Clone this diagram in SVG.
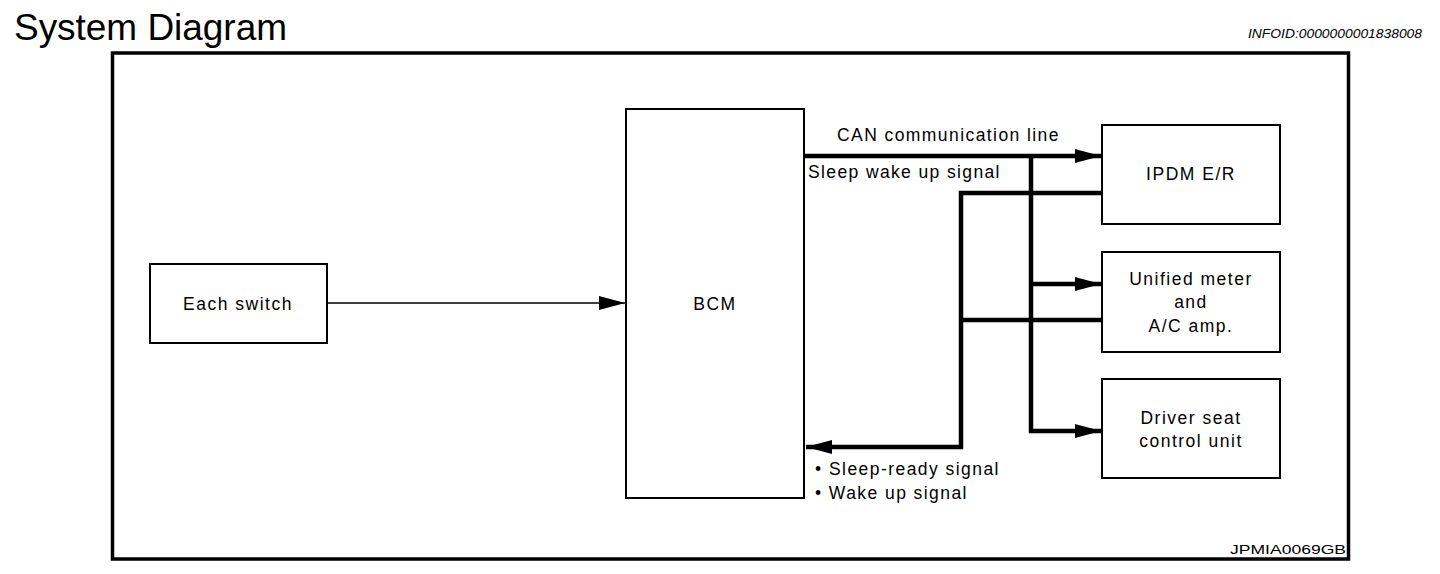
<svg xmlns="http://www.w3.org/2000/svg" width="1440" height="574" viewBox="0 0 1440 574">
<style>
text{font-family:"Liberation Sans",Arial,sans-serif;fill:#000}
.box{fill:#fff;stroke:#000;stroke-width:2}
.lbl{font-size:17.5px;letter-spacing:1.5px}
.c{text-anchor:middle}
.thick{fill:none;stroke:#000;stroke-width:4.5}
.thin{fill:none;stroke:#000;stroke-width:1.5}
</style>
<defs>
<marker id="ah" markerWidth="26" markerHeight="14" refX="26" refY="7" orient="auto" markerUnits="userSpaceOnUse">
<path d="M0,0 L26,7 L0,14 Z" fill="#000"/>
</marker>
</defs>
<rect width="1440" height="574" fill="#fff"/>
<text x="14" y="40" font-size="37" textLength="273">System Diagram</text>
<text x="1248" y="38" font-size="13" font-style="italic" textLength="174" lengthAdjust="spacingAndGlyphs">INFOID:0000000001838008</text>
<rect x="112.5" y="53" width="1236" height="506" fill="none" stroke="#000" stroke-width="3.5"/>
<text x="1230" y="554" font-size="13" textLength="116" lengthAdjust="spacingAndGlyphs">JPMIA0069GB</text>

<g id="connectors">
<path class="thin" d="M327,303 H625" marker-end="url(#ah)"/>
<path class="thick" d="M804,156 H1101" marker-end="url(#ah)"/>
<path class="thick" d="M1031,156 V431 H1101" marker-end="url(#ah)"/>
<path class="thick" d="M1031,284 H1101" marker-end="url(#ah)"/>
<path class="thick" d="M1102,193 H961 V447 H806" marker-end="url(#ah)"/>
<path class="thick" d="M1102,320 H961"/>
<text class="lbl" x="837" y="141" textLength="223">CAN communication line</text>
<text class="lbl" x="808" y="178" textLength="193">Sleep wake up signal</text>
<text class="lbl" x="815" y="475" textLength="185">• Sleep-ready signal</text>
<text class="lbl" x="815" y="499" textLength="153">• Wake up signal</text>
</g>

<g id="each-switch">
<rect class="box" x="150" y="264" width="177" height="79"/>
<text class="lbl c" x="238" y="310">Each switch</text>
</g>
<g id="bcm">
<rect class="box" x="626" y="109" width="178" height="389"/>
<text class="lbl c" x="715" y="310">BCM</text>
</g>
<g id="ipdm">
<rect class="box" x="1102" y="125" width="178" height="99"/>
<text class="lbl c" x="1191" y="180">IPDM E/R</text>
</g>
<g id="unified-meter">
<rect class="box" x="1102" y="252" width="178" height="100"/>
<text class="lbl c" x="1191" y="285">Unified meter</text>
<text class="lbl c" x="1191" y="308">and</text>
<text class="lbl c" x="1191" y="332">A/C amp.</text>
</g>
<g id="driver-seat">
<rect class="box" x="1102" y="379" width="178" height="99"/>
<text class="lbl c" x="1191" y="424">Driver seat</text>
<text class="lbl c" x="1191" y="447">control unit</text>
</g>
</svg>
